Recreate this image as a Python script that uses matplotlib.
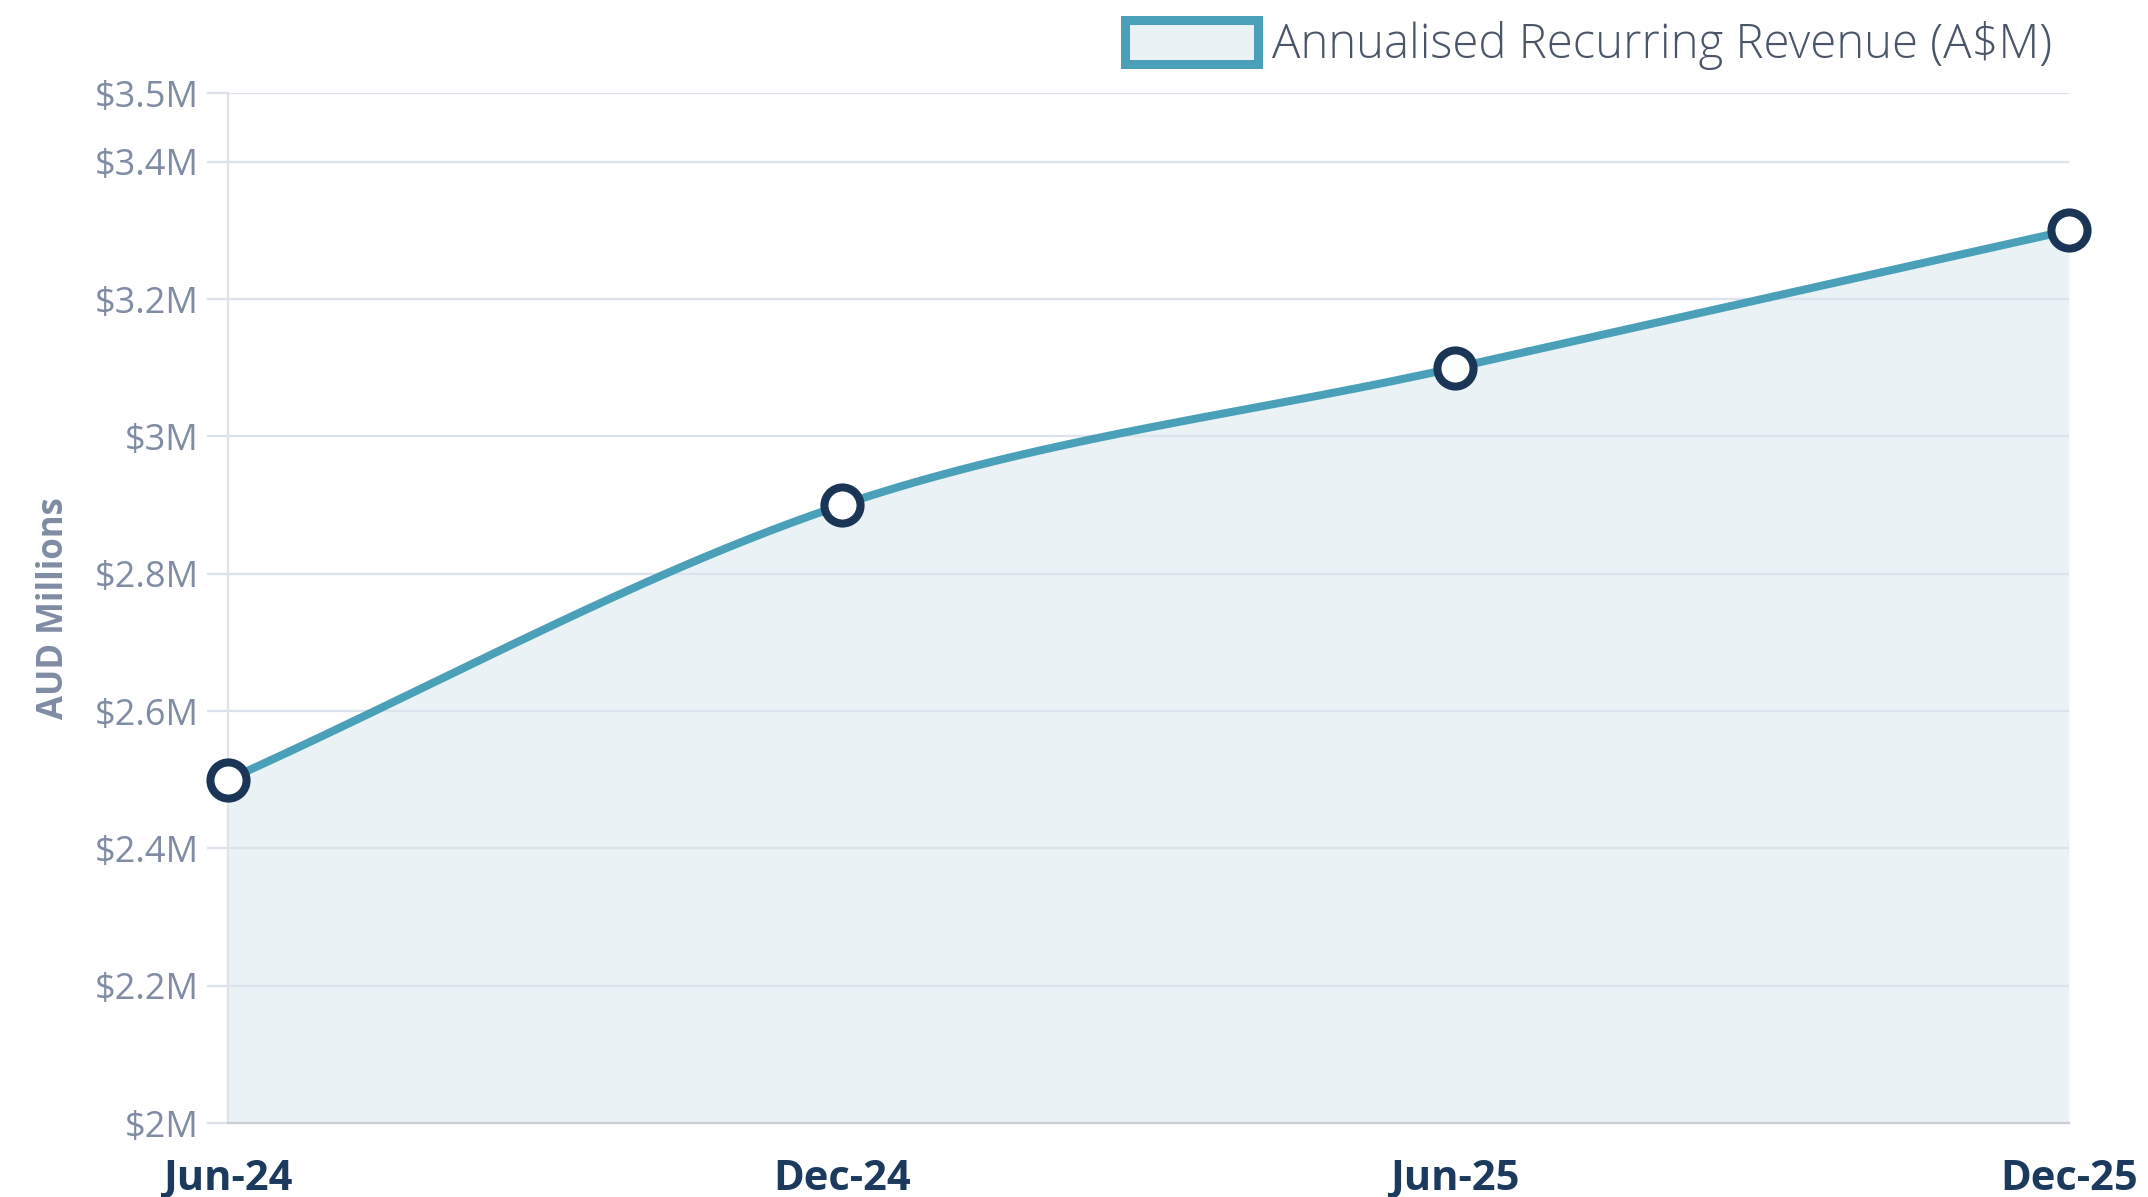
import numpy as np
import matplotlib
matplotlib.use("Agg")
import matplotlib.pyplot as plt
from matplotlib.patches import Patch

# data
periods = ["Jun-24", "Dec-24", "Jun-25", "Dec-25"]
arr_values = [2.5, 2.9, 3.1, 3.3]  # A$M
y_ticks = [2.0, 2.2, 2.4, 2.6, 2.8, 3.0, 3.2, 3.4, 3.5]
y_tick_labels = ["$2M", "$2.2M", "$2.4M", "$2.6M", "$2.8M", "$3M", "$3.2M", "$3.4M", "$3.5M"]
series_name = "Annualised Recurring Revenue (A$M)"

line_col = "#4aa0b8"
fill_col = "#eaf2f6"
marker_col = "#1a3556"
grid_col = "#dde3ec"
tick_col = "#7f8ca3"

plt.rcParams["font.family"] = ["Open Sans", "DejaVu Sans"]


def monotone_curve(x, y, n=60):
    # Fritsch-Carlson monotone cubic, like chart.js 'monotone'
    x = np.asarray(x, float)
    y = np.asarray(y, float)
    h = np.diff(x)
    d = np.diff(y) / h
    m = np.zeros_like(y)
    m[0], m[-1] = d[0], d[-1]
    for i in range(1, len(y) - 1):
        if d[i - 1] * d[i] <= 0:
            m[i] = 0
        else:
            m[i] = (d[i - 1] + d[i]) / 2
    for i in range(len(d)):
        if d[i] == 0:
            m[i] = m[i + 1] = 0
            continue
        a, b = m[i] / d[i], m[i + 1] / d[i]
        s = a * a + b * b
        if s > 9:
            t = 3 / np.sqrt(s)
            m[i] = t * a * d[i]
            m[i + 1] = t * b * d[i]
    xs, ys = [], []
    for i in range(len(d)):
        t = np.linspace(0, 1, n)
        h00 = 2 * t**3 - 3 * t**2 + 1
        h10 = t**3 - 2 * t**2 + t
        h01 = -2 * t**3 + 3 * t**2
        h11 = t**3 - t**2
        xs.append(x[i] + t * h[i])
        ys.append(h00 * y[i] + h10 * h[i] * m[i] + h01 * y[i + 1] + h11 * h[i] * m[i + 1])
    return np.concatenate(xs), np.concatenate(ys)


fig = plt.figure(figsize=(21.48, 11.97), dpi=100)
ax = fig.add_axes([0.1061, 0.0618, 0.8571, 0.8605])

x = np.arange(len(periods))
cx, cy = monotone_curve(x, arr_values)

ax.fill_between(cx, 2.0, cy, color=fill_col, zorder=1, lw=0)
ax.plot(cx, cy, color=line_col, lw=5.8, zorder=3, solid_capstyle="round")
ax.plot(x, arr_values, "o", ms=26, mfc="white", mec=marker_col, mew=5.8, zorder=4, clip_on=False)

ax.set_xlim(0, len(periods) - 1)
ax.set_ylim(2.0, 3.5)
ax.set_yticks(y_ticks)
ax.set_yticklabels(y_tick_labels)
ax.set_xticks(x)
ax.set_xticklabels(periods, fontweight="bold", color="#1c3a5e", fontsize=30)

ax.grid(axis="y", color=grid_col, lw=1.6, zorder=2)
ax.tick_params(axis="y", length=15, width=1.6, color=grid_col, labelcolor=tick_col,
               labelsize=26, pad=6)
ax.tick_params(axis="x", length=0, pad=26)

for s in ["top", "right"]:
    ax.spines[s].set_visible(False)
ax.spines["left"].set_color("#dfe2e7")
ax.spines["left"].set_linewidth(1.6)
ax.spines["bottom"].set_color("#c9ced6")
ax.spines["bottom"].set_linewidth(1.6)

ax.set_ylabel("AUD Millions", fontsize=25, fontweight="bold", color=tick_col, labelpad=16)

leg_handle = Patch(facecolor=fill_col, edgecolor=line_col, linewidth=6.5)
fig.legend(handles=[leg_handle], labels=[series_name], loc="upper right",
           bbox_to_anchor=(0.975, 1.019), frameon=False,
           handlelength=2.8, handleheight=1.05, handletextpad=0.3,
           labelcolor="#4a5568", prop={"weight": "light", "size": 34})

fig.savefig("out.png", dpi=100)
